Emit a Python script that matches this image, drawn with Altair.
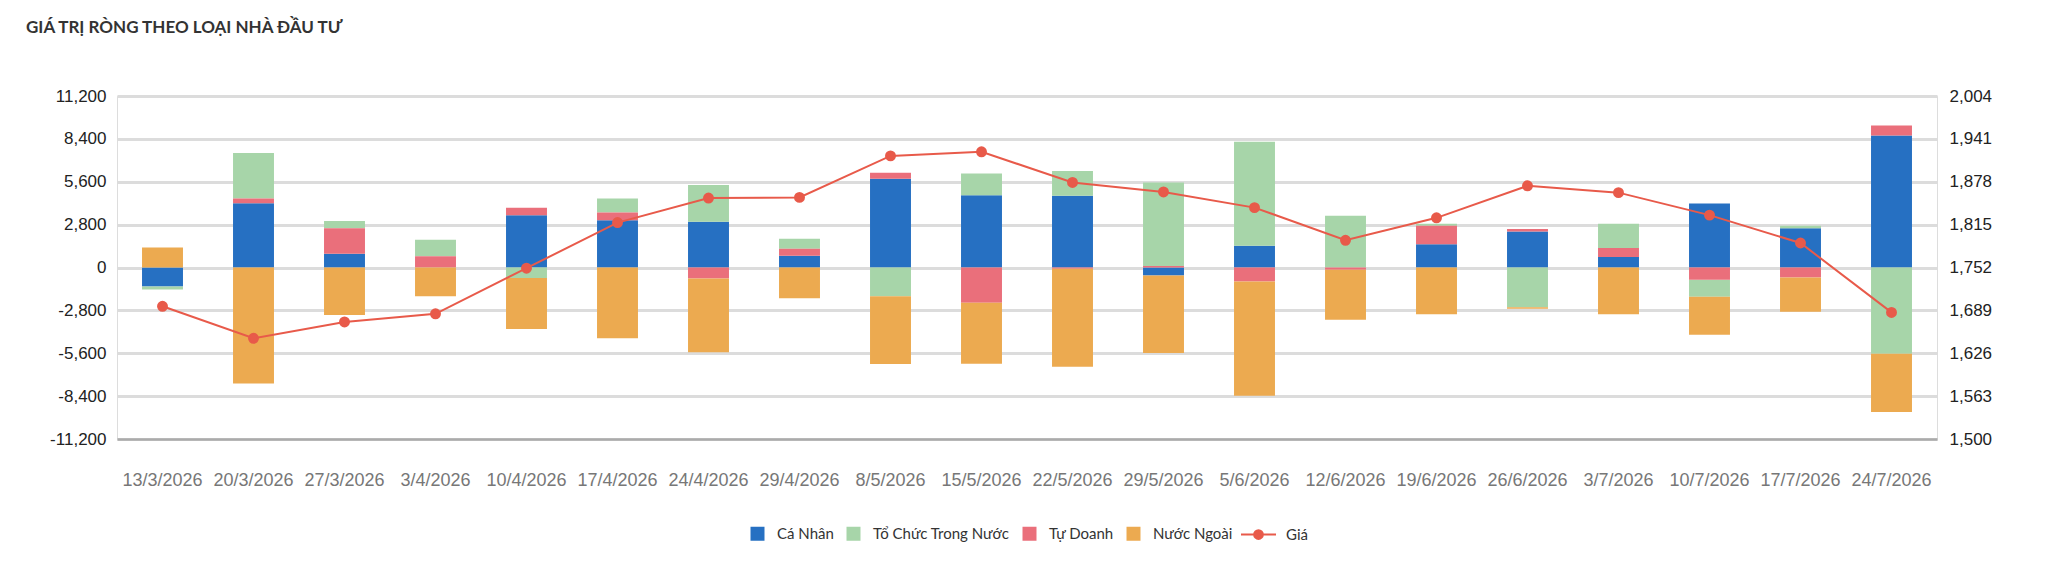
import altair as alt
import pandas as pd

dates = ["13/3/2026", "20/3/2026", "27/3/2026", "3/4/2026", "10/4/2026", "17/4/2026",
         "24/4/2026", "29/4/2026", "8/5/2026", "15/5/2026", "22/5/2026", "29/5/2026",
         "5/6/2026", "12/6/2026", "19/6/2026", "26/6/2026", "3/7/2026", "10/7/2026",
         "17/7/2026", "24/7/2026"]

ca_nhan = [-1240, 4200, 890, 0, 3420, 3090, 2980, 760, 5790, 4720,
           4680, -520, 1420, 0, 1520, 2350, 680, 4180, 2570, 8620]
to_chuc = [-200, 2980, 460, 1070, -680, 910, 2400, 650, -1870, 1420,
           1630, 5460, 6790, 3380, 130, -2590, 1590, -1110, 150, -5640]
tu_doanh = [0, 300, 1680, 740, 480, 500, -720, 460, 390, -2310,
            -80, 90, -910, -150, 1200, 170, 590, -800, -650, 650]
nuoc_ngoai = [1310, -7580, -3110, -1870, -3330, -4620, -4810, -2000, -4440, -3980,
              -6400, -5070, -7470, -3270, -3050, -110, -3050, -2480, -2240, -3790]
gia = [1695, 1648, 1672, 1684, 1751, 1818, 1854, 1855, 1916, 1922,
       1877, 1863, 1840, 1792, 1825, 1872, 1862, 1829, 1788, 1686]

series_names = ["Cá Nhân", "Tổ Chức Trong Nước", "Tự Doanh", "Nước Ngoài"]
series_colors = ["#2670c2", "#a7d5a9", "#ea6f7b", "#ecaa50"]
stack_rank = {"Cá Nhân": 0, "Tự Doanh": 1, "Tổ Chức Trong Nước": 2, "Nước Ngoài": 3}
left_ticks = [-11200, -8400, -5600, -2800, 0, 2800, 5600, 8400, 11200]
right_ticks = [1500, 1563, 1626, 1689, 1752, 1815, 1878, 1941, 2004]
line_color = "#e85a4a"

rows = []
for name, vals in zip(series_names, [ca_nhan, to_chuc, tu_doanh, nuoc_ngoai]):
    for d, v in zip(dates, vals):
        rows.append({"date": d, "type": name, "value": v, "rank": stack_rank[name]})
bars_df = pd.DataFrame(rows)
price_df = pd.DataFrame({"date": dates, "price": gia, "s": ["Giá"] * len(dates)})

num_expr = "datum.value < 0 ? '-' + format(-datum.value, ',d') : format(datum.value, ',d')"

x_enc = alt.X("date:N", sort=dates,
              scale=alt.Scale(paddingInner=0.55, paddingOuter=0.275),
              axis=alt.Axis(title=None, labelAngle=0, ticks=False, domain=True,
                            domainColor="#ababab", domainWidth=2.5,
                            labelFont="Liberation Sans", labelFontSize=18,
                            labelColor="#777777", labelPadding=32, grid=False))

bars = alt.Chart(bars_df).mark_bar().encode(
    x=x_enc,
    y=alt.Y("value:Q", stack="zero",
            scale=alt.Scale(domain=[-11200, 11200], nice=False),
            axis=alt.Axis(title=None, values=left_ticks, ticks=False, domain=False,
                          gridColor="#dcdcdc", gridWidth=3,
                          labelFont="Liberation Sans", labelFontSize=17,
                          labelColor="#222222", labelPadding=11,
                          labelExpr=num_expr)),
    color=alt.Color("type:N",
                    scale=alt.Scale(domain=series_names, range=series_colors),
                    legend=alt.Legend(orient="none", legendX=633, legendY=430,
                                      direction="horizontal", title=None,
                                      symbolType="square", symbolSize=196,
                                      symbolStrokeWidth=0,
                                      labelFont="Lato", labelFontSize=15,
                                      labelColor="#333333", labelOffset=12,
                                      columnPadding=12, padding=0)),
    order=alt.Order("rank:Q", sort="ascending"),
)

line = alt.Chart(price_df).mark_line(
    strokeWidth=2,
    point=alt.OverlayMarkDef(filled=True, size=80, color=line_color),
).encode(
    x=alt.X("date:N", sort=dates),
    y=alt.Y("price:Q", scale=alt.Scale(domain=[1500, 2004], nice=False),
            axis=alt.Axis(title=None, orient="right", values=right_ticks, ticks=False,
                          domain=False, grid=False,
                          labelFont="Liberation Sans", labelFontSize=17,
                          labelColor="#222222", labelPadding=12,
                          labelExpr=num_expr)),
    stroke=alt.Stroke("s:N", scale=alt.Scale(domain=["Giá"], range=[line_color]),
                      legend=alt.Legend(orient="none", legendX=1123, legendY=420,
                                        direction="horizontal", title=None,
                                        symbolType="M-1,0L1,0M0.25,0A0.25,0.25,0,1,1,-0.25,0A0.25,0.25,0,1,1,0.25,0Z",
                                        symbolSize=1225, symbolStrokeWidth=2,
                                        symbolFillColor=line_color,
                                        symbolStrokeColor=line_color,
                                        labelFont="Lato", labelFontSize=15,
                                        labelColor="#333333", labelOffset=9,
                                        padding=0)),
)

chart = alt.layer(bars, line).resolve_scale(
    y="independent", color="independent", stroke="independent"
).properties(
    width=1820, height=343,
    autosize=alt.AutoSizeParams(type="none"),
    padding={"left": 117, "top": 96, "right": 111, "bottom": 133},
    title=alt.Title("GIÁ TRỊ RÒNG THEO LOẠI NHÀ ĐẦU TƯ", anchor="start", frame="group",
                    dx=-91, offset=50, font="Lato", fontSize=17, fontWeight="bold",
                    color="#333333"),
).configure_view(stroke=None).configure(background="white")

chart.save("out.html", embed_options={"renderer": "svg", "actions": False})
